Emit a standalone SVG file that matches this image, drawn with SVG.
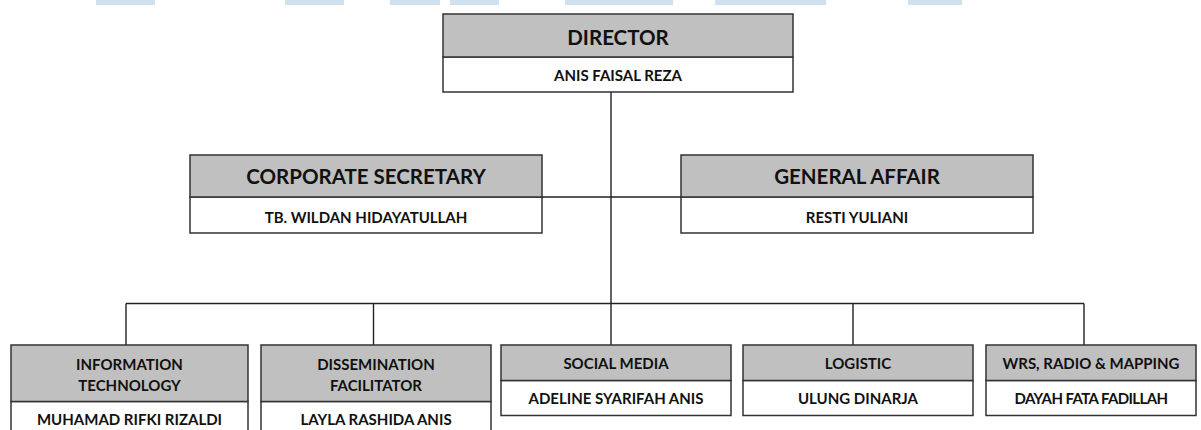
<svg xmlns="http://www.w3.org/2000/svg" width="1201" height="430" viewBox="0 0 1201 430">
<style>
.hd{fill:#c0c0c0;stroke:#333;stroke-width:1.5}
.bd{fill:#fff;stroke:#333;stroke-width:1.5}
.t{font-family:Lato,"Liberation Sans",sans-serif;font-weight:700;fill:#111;text-anchor:middle}
.big{font-size:20.5px}
.mid{font-size:15px}
.sm{font-size:15px}
.ln{stroke:#222;stroke-width:1.4;fill:none}
.wm{fill:#cfe0ef}
</style>
<rect width="1201" height="430" fill="#fff"/>
<g id="watermark">
<rect class="wm" x="96" y="0" width="59" height="5"/>
<rect class="wm" x="285" y="0" width="59" height="5"/>
<rect class="wm" x="390" y="0" width="50" height="5"/>
<rect class="wm" x="450" y="0" width="49" height="5"/>
<rect class="wm" x="565" y="0" width="108" height="5"/>
<rect class="wm" x="715" y="0" width="111" height="5"/>
<rect class="wm" x="908" y="0" width="54" height="5"/>
</g>
<g id="connectors">
<path class="ln" d="M611 92V345M542 197H681M126 303.5H1084M126 303.5V345M373.5 303.5V345M853 303.5V345M1084 303.5V345"/>
</g>
<g id="director">
<rect class="bd" x="443" y="57" width="350" height="35"/>
<rect class="hd" x="443" y="14" width="350" height="43"/>
<text class="t big" x="618" y="45">DIRECTOR</text>
<text class="t sm" x="618" y="81">ANIS FAISAL REZA</text>
</g>
<g id="corporate-secretary">
<rect class="bd" x="190" y="197" width="352" height="36"/>
<rect class="hd" x="190" y="155" width="352" height="42"/>
<text class="t big" x="366" y="184">CORPORATE SECRETARY</text>
<text class="t sm" x="366" y="223">TB. WILDAN HIDAYATULLAH</text>
</g>
<g id="general-affair">
<rect class="bd" x="681" y="197" width="352" height="36"/>
<rect class="hd" x="681" y="155" width="352" height="42"/>
<text class="t big" x="857" y="184">GENERAL AFFAIR</text>
<text class="t sm" x="857" y="223">RESTI YULIANI</text>
</g>
<g id="information-technology">
<rect class="bd" x="11" y="401.5" width="237" height="40"/>
<rect class="hd" x="11" y="345" width="237" height="56.5"/>
<text class="t mid" x="129.5" y="369.5">INFORMATION</text>
<text class="t mid" x="129.5" y="391">TECHNOLOGY</text>
<text class="t mid" x="129.5" y="424.5">MUHAMAD RIFKI RIZALDI</text>
</g>
<g id="dissemination-facilitator">
<rect class="bd" x="261" y="401.5" width="230" height="40"/>
<rect class="hd" x="261" y="345" width="230" height="56.5"/>
<text class="t mid" x="376" y="369.5">DISSEMINATION</text>
<text class="t mid" x="376" y="391">FACILITATOR</text>
<text class="t mid" x="376" y="424.5">LAYLA RASHIDA ANIS</text>
</g>
<g id="social-media">
<rect class="bd" x="501" y="380.5" width="230" height="35"/>
<rect class="hd" x="501" y="345" width="230" height="35.5"/>
<text class="t mid" x="616" y="369">SOCIAL MEDIA</text>
<text class="t mid" x="616" y="403.5">ADELINE SYARIFAH ANIS</text>
</g>
<g id="logistic">
<rect class="bd" x="743" y="380.5" width="230" height="35"/>
<rect class="hd" x="743" y="345" width="230" height="35.5"/>
<text class="t mid" x="858" y="369">LOGISTIC</text>
<text class="t mid" x="858" y="403.5">ULUNG DINARJA</text>
</g>
<g id="wrs-radio-mapping">
<rect class="bd" x="986" y="380.5" width="210" height="35"/>
<rect class="hd" x="986" y="345" width="210" height="35.5"/>
<text class="t mid" x="1091" y="369">WRS, RADIO &amp; MAPPING</text>
<text class="t mid" x="1091" y="403.5" letter-spacing="-0.6">DAYAH FATA FADILLAH</text>
</g>
</svg>
